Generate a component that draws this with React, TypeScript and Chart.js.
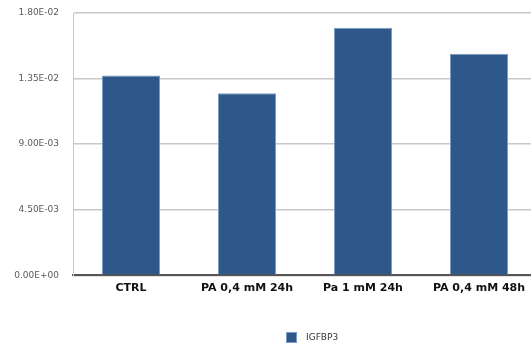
import React, { useEffect, useRef } from "react";
import { Chart, registerables } from "chart.js";

Chart.register(...registerables);

const categories = ["CTRL", "PA 0,4 mM 24h", "Pa 1 mM 24h", "PA 0,4 mM 48h"];
const seriesName = "IGFBP3";
const values = [0.01371, 0.01249, 0.01698, 0.0152];
const yTicks = [0, 0.0045, 0.009, 0.0135, 0.018];
const yTickLabels = ["0.00E+00", "4.50E-03", "9.00E-03", "1.35E-02", "1.80E-02"];

const CANVAS_W = 560;
const CANVAS_H = 347;
const BAR_COLOR = "#2e5889";

const legendPlugin = {
  id: "customLegend",
  afterDraw(chart: any) {
    const ctx = chart.ctx;
    const ds = chart.data.datasets[0];
    ctx.save();
    const x = 286;
    const y = 332;
    ctx.fillStyle = ds.backgroundColor;
    ctx.fillRect(x, y, 11, 11);
    ctx.strokeStyle = ds.borderColor;
    ctx.lineWidth = 1;
    ctx.strokeRect(x + 0.5, y + 0.5, 10, 10);
    ctx.fillStyle = "#333";
    ctx.font = "9px 'DejaVu Sans', sans-serif";
    ctx.textBaseline = "middle";
    ctx.textAlign = "left";
    ctx.fillText(ds.label, 306, y + 6);
    ctx.restore();
  },
};

export default function App() {
  const ref = useRef<HTMLCanvasElement | null>(null);
  useEffect(() => {
    if (!ref.current) return;
    const chart = new Chart(ref.current, {
      type: "bar",
      data: {
        labels: categories,
        datasets: [
          {
            label: seriesName,
            data: values,
            backgroundColor: BAR_COLOR,
            borderColor: "#7d9cc4",
            borderWidth: 1,
            categoryPercentage: 1,
            barPercentage: 0.5,
          },
        ],
      },
      plugins: [legendPlugin],
      options: {
        responsive: false,
        animation: false,
        devicePixelRatio: 1,
        layout: { padding: { top: 13, right: CANVAS_W - 537, left: 0, bottom: 46.5 } },
        plugins: {
          tooltip: { enabled: false },
          legend: { display: false },
        },
        scales: {
          x: {
            grid: { display: false, drawTicks: false },
            border: { display: true, color: "#555", width: 2 },
            ticks: {
              color: "#111",
              padding: 6,
              font: { family: "'DejaVu Sans', sans-serif", size: 11, weight: "bold" },
            },
          },
          y: {
            min: 0,
            max: 0.018,
            afterFit: (s: any) => {
              s.width = 73;
              s.paddingTop = 0;
              s.paddingBottom = 0;
            },
            afterBuildTicks: (s: any) => {
              s.ticks = yTicks.map((v) => ({ value: v }));
            },
            grid: { color: "#c8c8c8", lineWidth: 1.5, drawTicks: false },
            border: { display: true, color: "#c8c8c8", width: 1 },
            ticks: {
              color: "#5a5a5a",
              padding: 14,
              font: { family: "'DejaVu Sans', sans-serif", size: 9 },
              callback: (v: any) => {
                const i = yTicks.findIndex((t) => Math.abs(t - Number(v)) < 1e-9);
                return i >= 0 ? yTickLabels[i] : "";
              },
            },
          },
        },
      },
    });
    return () => chart.destroy();
  }, []);
  return (
    <div
      style={{
        position: "fixed",
        left: 0,
        top: 0,
        width: 531,
        height: 347,
        overflow: "hidden",
        background: "#fff",
      }}
    >
      <canvas ref={ref} width={CANVAS_W} height={CANVAS_H} style={{ display: "block" }} />
    </div>
  );
}
